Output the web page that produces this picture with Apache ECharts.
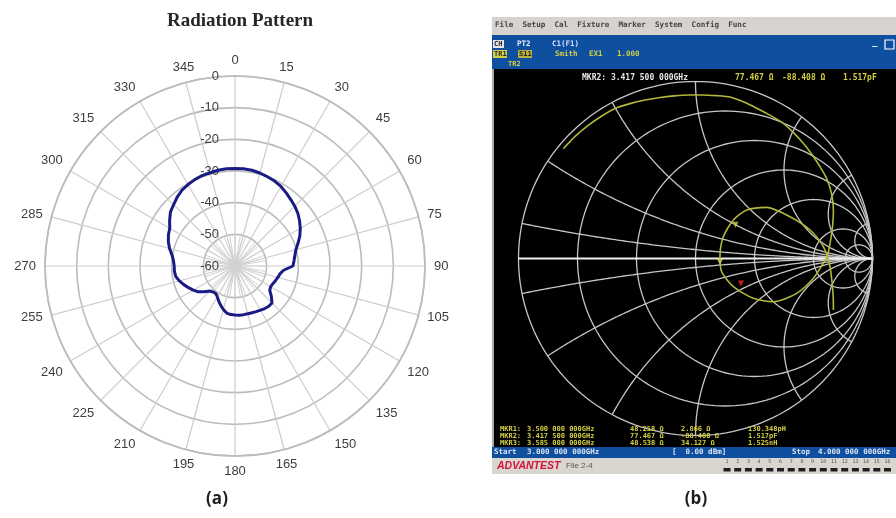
<!DOCTYPE html>
<html>
<head>
<meta charset="utf-8">
<script src="https://cdn.jsdelivr.net/npm/echarts@6/dist/echarts.min.js"></script>
<style>
  html, body { margin:0; padding:0; background:#fff; }
  #chart { width:896px; height:518px; }
</style>
</head>
<body>
<div id="chart"></div>
<script>
/* (a) radiation pattern: angle (deg) and gain (dB) */
const ANGLES = [0,5,10,15,20,25,30,35,40,45,50,55,60,65,70,75,80,85,90,95,100,105,110,115,
  120,125,130,135,140,145,150,155,160,165,170,175,180,185,190,195,200,205,210,215,220,225,
  230,235,240,245,250,255,260,265,270,275,280,285,290,295,300,305,310,315,320,325,330,335,340,345,350,355];
const GAIN_DB = [-29.2,-29.2,-29.3,-29.6,-30.0,-30.4,-31.0,-31.8,-32.6,-33.3,-34.1,-35.1,
  -36.2,-37.4,-38.8,-40.1,-40.8,-41.3,-41.7,-44.6,-45.6,-46.0,-46.4,-46.8,
  -47.0,-46.6,-45.0,-43.5,-43.4,-43.6,-43.9,-44.1,-44.3,-44.4,-44.4,-44.4,
  -44.5,-44.6,-44.9,-45.8,-46.8,-47.8,-48.8,-49.4,-49.3,-48.8,-47.3,-45.8,
  -44.8,-43.8,-42.8,-41.8,-41.0,-40.8,-40.8,-40.5,-39.8,-38.6,-37.6,-36.8,
  -36.2,-34.8,-33.4,-32.6,-31.6,-30.8,-30.3,-29.9,-29.6,-29.5,-29.3,-29.2];

/* (b) Smith chart: grid values and the S11 trace (reflection coefficient) */
const R_CIRCLES = [0, 0.2, 0.5, 1, 2, 5, 12];
const X_ARCS = [0.1, 0.3, 0.6, 1, 2, 4, 10];
const TRACE_RE = [-0.747,-0.680,-0.606,-0.530,-0.455,-0.370,-0.285,-0.200,-0.120,-0.040,0.035,0.120,
  0.195,0.270,0.346,0.420,0.496,0.555,0.609,0.660,0.703,0.737,0.760,0.775,0.779,0.775,0.766,0.754,0.745,
  0.722,0.666,0.572,0.440,0.327,0.214,0.148,0.138,0.157,0.214,0.289,0.402,0.534,0.647,0.715,0.748,
  0.762,0.772,0.778,0.779];
const TRACE_IM = [0.620,0.690,0.752,0.805,0.848,0.875,0.895,0.910,0.919,0.924,0.924,0.920,
  0.912,0.885,0.849,0.810,0.764,0.710,0.651,0.585,0.519,0.460,0.400,0.330,0.260,0.190,0.120,0.055,0.010,
  -0.027,-0.112,-0.197,-0.244,-0.225,-0.159,-0.075,0.010,0.123,0.218,0.274,0.289,0.236,0.161,0.080,0.005,
  -0.060,-0.140,-0.216,-0.291];
const MARKER_RE = [0.257, 0.226, 0.138];
const MARKER_IM = [-0.141, 0.190, -0.020];

const MENU_TEXT = 'File  Setup  Cal  Fixture  Marker  System  Config  Func';
const MKR_TOP = ['MKR2: 3.417 500 000GHz', '77.467 \u03a9', '-88.408 \u03a9', '1.517pF'];
const MKR_ROWS = [
  ['MKR1:', '3.500 000 000GHz', '48.258 \u03a9', '2.866 \u03a9', '130.348pH'],
  ['MKR2:', '3.417 500 000GHz', '77.467 \u03a9', '-88.408 \u03a9', '1.517pF'],
  ['MKR3:', '3.585 000 000GHz', '48.538 \u03a9', '34.127 \u03a9', '1.525nH']
];
const STATUS = ['Start', '3.000 000 000GHz', '[  0.00 dBm]', 'Stop', '4.000 000 000GHz'];

const MONO = '"DejaVu Sans Mono", monospace';
const YEL = '#d3cf45';
const BLUE = '#0e4f9f';

const chart = echarts.init(document.getElementById('chart'), null, { renderer:'canvas' });

const patternData = ANGLES.map((a, i) => [GAIN_DB[i], a]);
patternData.push([GAIN_DB[0], 360]);

// constant-resistance circle
function rCircle(r){
  const c = r/(1+r), rad = 1/(1+r), pts = [];
  for (let a = 0; a <= 360; a += 2){
    const t = a*Math.PI/180;
    pts.push([c + rad*Math.cos(t), rad*Math.sin(t)]);
  }
  return pts;
}
// constant-reactance arc (upper half), from (1,0) to the outer circle
function xArc(x){
  const c = 1/x, px = (x*x-1)/(x*x+1), py = 2*x/(x*x+1);
  let a1 = Math.atan2(py - c, px - 1); if (a1 > 0) a1 -= 2*Math.PI;
  const a0 = -Math.PI/2, pts = [];
  for (let k = 0; k <= 160; k++){
    const t = a0 + (a1 - a0)*k/160;
    pts.push([1 + c*Math.cos(t), c + c*Math.sin(t)]);
  }
  return pts;
}
const smithGrid = R_CIRCLES.map(r => ({coords: rCircle(r)}));
X_ARCS.forEach(x => {
  const p = xArc(x);
  smithGrid.push({coords: p}, {coords: p.map(q => [q[0], -q[1]])});
});
const trace = TRACE_RE.map((v, i) => [v, TRACE_IM[i]]);

// ---- instrument screen chrome (graphic) ----
const g = [];
const rect = (x, y, w, h, fill, z) => g.push({type:'rect', z: z||0, shape:{x, y, width:w, height:h}, style:{fill}});
const txt = (x, y, s, font, fill, align) => g.push({type:'text', z:10, x, y,
  style:{text:s, font, fill, textAlign: align||'left', align: align||'left', textVerticalAlign:'middle', verticalAlign:'middle'}});

rect(492, 17, 404, 18, '#d6d3ce');
rect(492, 35, 404, 34, BLUE);
rect(492, 69, 404, 378, '#000000');
rect(492, 69, 2, 378, '#a8a8a8', 1);
rect(492, 447, 404, 11, BLUE);
rect(492, 458, 404, 16, '#d9d6d0');
txt(495, 25, MENU_TEXT, 'bold 7.6px ' + MONO, '#444');

// header block
rect(493, 40, 11, 8, '#e6e6e6', 5);
txt(494, 44, 'CH', 'bold 7px ' + MONO, '#223');
txt(517, 44, 'PT2', 'bold 7.5px ' + MONO, '#e8eef8');
txt(552, 44, 'C1(F1)', 'bold 7.5px ' + MONO, '#cfe0ff');
rect(493, 50, 14, 8, YEL, 5);
txt(494, 54, 'TR1', 'bold 7px ' + MONO, '#223');
rect(518, 50, 14, 8, '#b7b23a', 5);
txt(519, 54, 'S11', 'bold 7px ' + MONO, '#223');
txt(555, 54, 'Smith', 'bold 7.5px ' + MONO, YEL);
txt(589, 54, 'EX1', 'bold 7.5px ' + MONO, YEL);
txt(617, 54, '1.000', 'bold 7.5px ' + MONO, YEL);
txt(508, 64, 'TR2', 'bold 7px ' + MONO, YEL);
txt(872, 43, '_', 'bold 9px ' + MONO, '#ffffff');
g.push({type:'rect', z:10, shape:{x:885, y:40, width:9, height:9}, style:{fill:'none', stroke:'#ffffff', lineWidth:1.2}});

// marker readouts
txt(582, 77.5, MKR_TOP[0], 'bold 8px ' + MONO, '#e6e6e6');
txt(735, 77.5, MKR_TOP[1], 'bold 8px ' + MONO, YEL);
txt(782, 77.5, MKR_TOP[2], 'bold 8px ' + MONO, YEL);
txt(843, 77.5, MKR_TOP[3], 'bold 8px ' + MONO, YEL);
const colX = [500, 527, 630, 681, 748];
MKR_ROWS.forEach((row, i) => row.forEach((s, j) =>
  txt(colX[j], 429 + i*7, s, 'bold 7px ' + MONO, YEL)));

// status bar + footer
const statX = [494, 527, 672, 792, 818];
STATUS.forEach((s, j) => txt(statX[j], 452.5, s, 'bold 7.5px ' + MONO, '#dde6f5'));
txt(497, 466, 'ADVANTEST', 'italic bold 10.5px "Liberation Sans", sans-serif', '#d3123c');
txt(566, 466, 'File 2-4', '8px "Liberation Sans", sans-serif', '#555');
for (let i = 0; i < 16; i++){
  txt(727 + i*10.7, 462, String(i+1), '5px ' + MONO, '#555', 'center');
  rect(723.5 + i*10.7, 468, 7, 3.5, '#1e1e1e', 5);
}

// panel captions
txt(217, 499, '(a)', 'bold 17px "Open Sans", sans-serif', '#1e1e1e', 'center');
txt(696, 499, '(b)', 'bold 17px "Open Sans", sans-serif', '#1e1e1e', 'center');

chart.setOption({
  animation:false,
  backgroundColor:'#ffffff',
  title:{text:'Radiation Pattern', left:235, top:7, textAlign:'center',
    textStyle:{fontFamily:'"Liberation Serif", serif', fontWeight:'bold', fontSize:19, color:'#262626'}},
  polar:[{center:[235,266], radius:190}, {center:[235,266], radius:31}],
  angleAxis:[
    {polarIndex:0, type:'value', min:0, max:360, interval:15, startAngle:90, clockwise:true,
      axisLine:{lineStyle:{color:'#bcbcbc', width:1.6}}, axisTick:{show:false},
      axisLabel:{margin:9, color:'#3d3d3d', fontSize:13, fontFamily:'"Liberation Sans", Arial',
        formatter:v => v === 360 ? '' : String(v)},
      splitLine:{lineStyle:{color:'#cdcdcd', width:1.2}}},
    {polarIndex:1, type:'value', min:0, max:360, interval:10, startAngle:90, clockwise:true,
      axisLine:{show:false}, axisTick:{show:false}, axisLabel:{show:false},
      splitLine:{lineStyle:{color:'#d2d2d2', width:1}}}
  ],
  radiusAxis:[
    {polarIndex:0, type:'value', min:-60, max:0, interval:10,
      axisLine:{show:false}, axisTick:{show:false},
      axisLabel:{margin:16, color:'#3d3d3d', fontSize:13, fontFamily:'"Liberation Sans", Arial'},
      splitLine:{lineStyle:{color:'#bcbcbc', width:1.6}}},
    {polarIndex:1, type:'value', min:0, max:1, show:false}
  ],
  grid:{left:518.5, top:81.5, width:354, height:354},
  xAxis:{type:'value', min:-1, max:1, show:false},
  yAxis:{type:'value', min:-1, max:1, show:false},
  graphic:{elements:g},
  series:[
    {type:'line', coordinateSystem:'polar', polarIndex:0, data:patternData, showSymbol:false,
      lineStyle:{color:'#1a1a84', width:3}, z:5},
    {type:'lines', coordinateSystem:'cartesian2d', polyline:true, silent:true, data:smithGrid,
      lineStyle:{color:'#c6c6c6', width:1.3, opacity:1}, z:3},
    {type:'lines', coordinateSystem:'cartesian2d', polyline:true, silent:true,
      data:[{coords:[[-1,0],[1,0]]}], lineStyle:{color:'#ededed', width:1.8, opacity:1}, z:3},
    {type:'line', data:trace, showSymbol:false, smooth:0.25,
      lineStyle:{color:'#b3b73a', width:1.6}, z:4},
    {type:'scatter', data:MARKER_RE.map((v, i) => [v, MARKER_IM[i]]), z:6,
      symbol:'triangle', symbolRotate:180, symbolSize:6,
      itemStyle:{color:(p) => p.dataIndex === 0 ? '#ff2020' : YEL}}
  ]
});
</script>
</body>
</html>
